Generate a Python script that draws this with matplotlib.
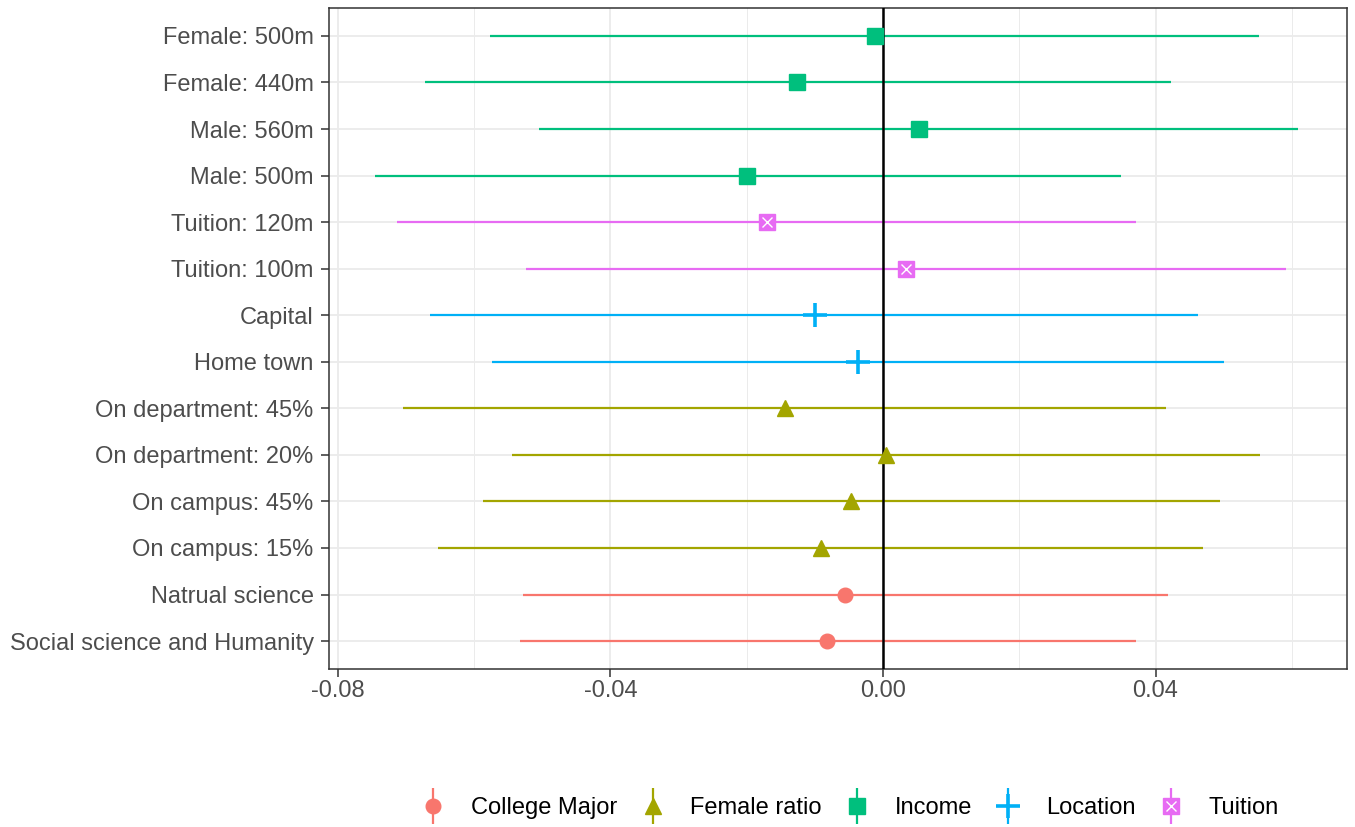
import matplotlib.pyplot as plt
from matplotlib.lines import Line2D
import numpy as np

plt.rcParams['font.family'] = ['Liberation Sans', 'DejaVu Sans']

# rows from bottom to top
labels = ["Social science and Humanity", "Natrual science",
          "On campus: 15%", "On campus: 45%",
          "On department: 20%", "On department: 45%",
          "Home town", "Capital",
          "Tuition: 100m", "Tuition: 120m",
          "Male: 500m", "Male: 560m",
          "Female: 440m", "Female: 500m"]
groups = ["College Major", "College Major",
          "Female ratio", "Female ratio", "Female ratio", "Female ratio",
          "Location", "Location",
          "Tuition", "Tuition",
          "Income", "Income", "Income", "Income"]
estimate = [-0.0082, -0.0056, -0.0091, -0.0047, 0.0004, -0.0144,
            -0.0037, -0.0100, 0.0034, -0.0170, -0.0199, 0.0053, -0.0126, -0.0012]
lower = [-0.0533, -0.0529, -0.0653, -0.0587, -0.0545, -0.0705,
         -0.0574, -0.0665, -0.0524, -0.0713, -0.0746, -0.0505, -0.0672, -0.0577]
upper = [0.0371, 0.0419, 0.0470, 0.0495, 0.0554, 0.0415,
         0.0501, 0.0463, 0.0592, 0.0372, 0.0349, 0.0609, 0.0422, 0.0552]

legend_order = ["College Major", "Female ratio", "Income", "Location", "Tuition"]
colors = {"College Major": "#F8766D", "Female ratio": "#A3A500",
          "Income": "#00BF7D", "Location": "#00B0F6", "Tuition": "#E76BF3"}


def point_style(g):
    # marker kwargs per group, ggplot shapes 16, 17, 15, 3, 7
    if g == "College Major":
        return [dict(marker="o", ms=10.5)]
    if g == "Female ratio":
        return [dict(marker="^", ms=11.5)]
    if g == "Income":
        return [dict(marker="s", ms=11)]
    if g == "Location":
        return [dict(marker="+", ms=17, mew=2.6)]
    return [dict(marker="s", ms=11.5),
            dict(marker="x", ms=6.5, mew=1.0, color="white")]


fig = plt.figure(figsize=(13.55, 8.27), dpi=100)
ax = fig.add_axes([329 / 1355, 1 - 669 / 827, (1347 - 329) / 1355, (669 - 8) / 827])

y = np.arange(len(labels))
for i in range(len(labels)):
    g = groups[i]
    c = colors[g]
    ax.hlines(y[i], lower[i], upper[i], color=c, lw=1.6, zorder=3)
    for k, st in enumerate(point_style(g)):
        kw = dict(color=c, ls="none")
        kw.update(st)
        ax.plot(estimate[i], y[i], zorder=4 + k, **kw)

ax.axvline(0, color="black", lw=1.8, zorder=3.5)

ax.set_xlim(-0.0813, 0.0681)
ax.set_ylim(-0.6, len(labels) - 0.4)
ax.set_xticks([-0.08, -0.04, 0.0, 0.04])
ax.set_xticklabels(["-0.08", "-0.04", "0.00", "0.04"])
ax.set_xticks([-0.06, -0.02, 0.02, 0.06], minor=True)
ax.set_yticks(y)
ax.set_yticklabels(labels)

ax.grid(True, which="major", color="#EBEBEB", lw=1.3, zorder=0)
ax.grid(True, which="minor", axis="x", color="#EBEBEB", lw=0.7, zorder=0)
ax.set_axisbelow(True)
ax.tick_params(axis="both", which="major", labelsize=17, color="#333333",
               length=5.5, width=1.1, labelcolor="#4D4D4D", pad=2.5)
ax.tick_params(axis="y", pad=5.5)
ax.tick_params(axis="x", which="minor", length=0)
for s in ax.spines.values():
    s.set_color("#333333")
    s.set_linewidth(1.1)

handles = []
for g in legend_order:
    c = colors[g]
    parts = [Line2D([], [], ls="none", marker="|", ms=26, mew=1.6, color=c)]
    for st in point_style(g):
        kw = dict(color=c, ls="none")
        kw.update(st)
        parts.append(Line2D([], [], **kw))
    handles.append(tuple(parts))

fig.legend(handles, legend_order, loc="center", bbox_to_anchor=(850 / 1355, 1 - 808 / 827),
           ncol=5, frameon=False, fontsize=17, handlelength=1.0, columnspacing=1.0,
           handletextpad=1.1)

fig.savefig("out.png", dpi=100)
